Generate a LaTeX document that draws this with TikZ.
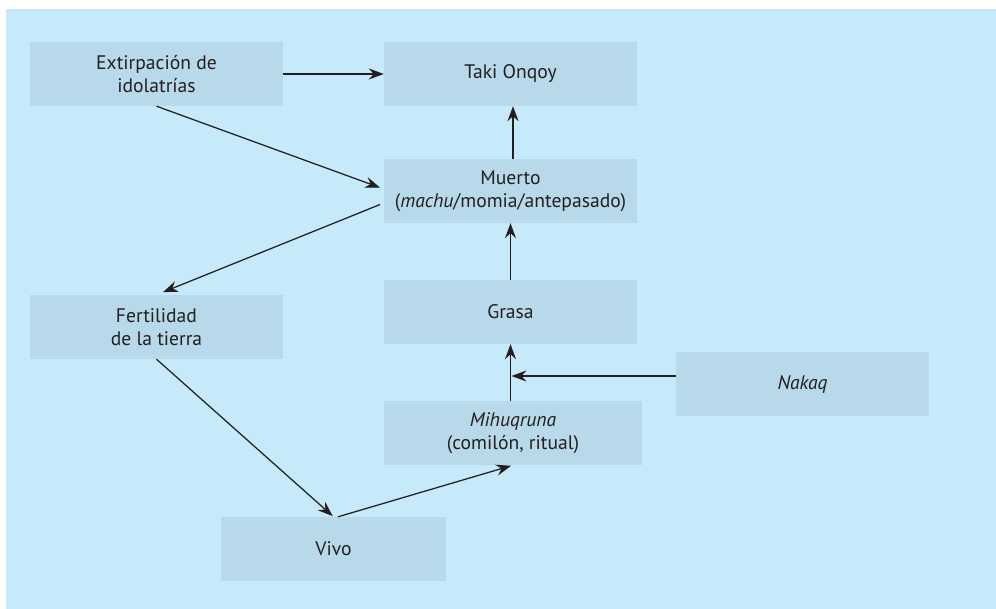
\documentclass[tikz,border=0pt]{standalone}
\usepackage{fontspec}
\setmainfont{PT Sans}
\usetikzlibrary{arrows.meta}
\definecolor{panel}{RGB}{198,234,249}
\definecolor{boxfill}{RGB}{183,217,234}
\definecolor{ink}{RGB}{35,31,32}
\begin{document}
\begin{tikzpicture}[x=1pt,y=-1pt,
  concept/.style={rectangle, fill=boxfill, minimum height=64pt, minimum width=253pt,
    inner sep=0pt, align=center, text=ink,
    font=\fontsize{19.6}{23}\selectfont},
  link/.style={draw=ink, line width=1.25pt,
    -{Stealth[length=15pt,width=11pt,inset=5pt]}}]
  % canvas and panel
  \useasboundingbox (0,0) rectangle (996,609);
  \fill[white] (0,0) rectangle (996,609);
  \fill[panel] (6,9) rectangle (996,609);

  % concepts
  \node[concept] (ext)    at (156.5,74)  {Extirpación de\\idolatrías};
  \node[concept] (taki)   at (510.5,74)  {Taki Onqoy};
  \node[concept] (muerto) at (510.5,191) {Muerto\\(\textit{machu}/momia/antepasado)};
  \node[concept] (fert)   at (156.5,327) {Fertilidad\\de la tierra};
  \node[concept] (grasa)  at (510.5,312) {Grasa};
  \node[concept, minimum width=258pt] (mihu) at (513,433) {\textit{Mihuqruna}\\(comilón, ritual)};
  \node[concept] (nakaq)  at (802.5,384) {\textit{Nakaq}};
  \node[concept, minimum width=225pt] (vivo) at (333.5,549) {Vivo};

  % relations
  \draw[link] (ext.east) -- (taki.west);
  \draw[link] ([xshift=2.5pt]muerto.north) -- ([xshift=2.5pt]taki.south);
  \draw[link] (grasa.north) -- (muerto.south);
  \draw[link] (mihu.north -| grasa.south) -- (grasa.south);
  \coordinate (nk) at ([yshift=8pt]nakaq.west);
  \draw[link] (nk) -- ([xshift=1pt]nk -| grasa.south);
  \draw[link, shorten >=4pt] (ext.south) -- ([yshift=2pt]muerto.west);
  \draw[link, shorten <=4pt, shorten >=7pt] ([yshift=-12pt]muerto.west) -- (fert.north);
  \draw[link, shorten >=1pt] (fert.south) -- (vivo.north);
  \draw[link, shorten >=2pt] ([xshift=4.5pt]vivo.north) -- (mihu.south);
\end{tikzpicture}
\end{document}
